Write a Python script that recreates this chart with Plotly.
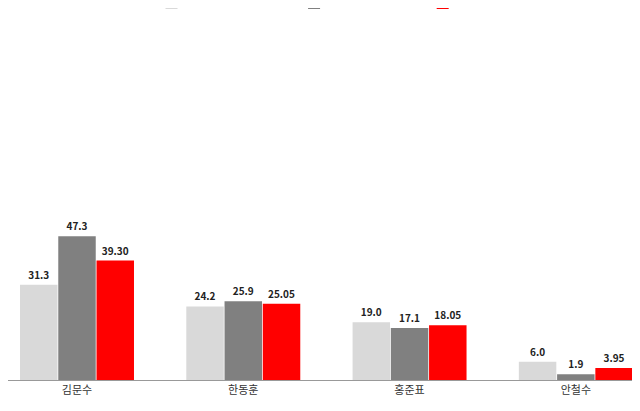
import plotly.graph_objects as go

categories = ["김문수", "한동훈", "홍준표", "안철수"]
series_names = ["국민의힘지지층+무당층", "책임당원・선거인단", "합산평균"]
s1 = [31.3, 24.2, 19.0, 6.0]
s2 = [47.3, 25.9, 17.1, 1.9]
s3 = [39.30, 25.05, 18.05, 3.95]
labels1 = ["31.3", "24.2", "19.0", "6.0"]
labels2 = ["47.3", "25.9", "17.1", "1.9"]
labels3 = ["39.30", "25.05", "18.05", "3.95"]
colors = ["#d9d9d9", "#808080", "#ff0000"]

fig = go.Figure()
for name, vals, labs, c in zip(series_names, [s1, s2, s3], [labels1, labels2, labels3], colors):
    fig.add_bar(x=categories, y=vals, name=name, text=["<b>%s</b>" % l for l in labs],
                textposition="outside",
                marker=dict(color=c, line=dict(width=0)),
                textfont=dict(size=10, color="#222", family="Noto Sans CJK KR"), cliponaxis=False)

fig.update_layout(
    width=640, height=411, barmode="group", bargap=0.31, bargroupgap=0.02,
    plot_bgcolor="white", paper_bgcolor="white",
    margin=dict(l=0, r=0, t=30, b=39, autoexpand=False),
    font=dict(family="Noto Sans CJK KR", size=11, color="#333"),
    legend=dict(orientation="h", x=0.5, xanchor="center", y=1.06, yanchor="bottom",
                font=dict(size=10), itemwidth=30),
    yaxis=dict(range=[0, 112.5], visible=False),
    xaxis=dict(range=[-0.415, 3.434], showline=True, linecolor="#999", linewidth=1,
               ticks="", tickfont=dict(size=11), automargin=False),
)
fig.write_html("out.html")
